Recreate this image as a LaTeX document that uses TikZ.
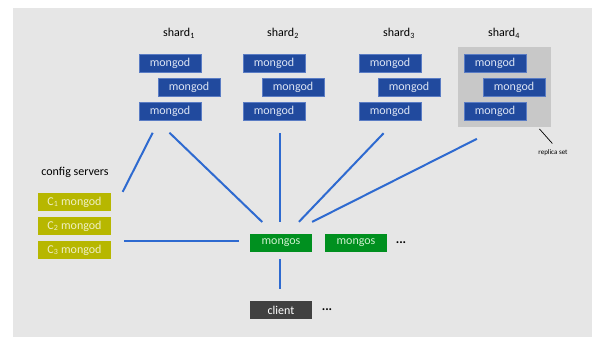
\documentclass[tikz,border=0pt]{standalone}
\usepackage{fontspec}
\setmainfont{Carlito}
\usetikzlibrary{fit,backgrounds}
\definecolor{pagegray}{HTML}{E6E6E6}
\definecolor{rsgray}{HTML}{C8C8C8}
\definecolor{mongodblue}{HTML}{214A9E}
\definecolor{mongodline}{HTML}{5A7CC4}
\definecolor{mongodtext}{HTML}{DDE5F4}
\definecolor{configyellow}{HTML}{B7B700}
\definecolor{configtext}{HTML}{F0F0C4}
\definecolor{mongosgreen}{HTML}{00901F}
\definecolor{mongostext}{HTML}{CFF0CF}
\definecolor{clientgray}{HTML}{404040}
\definecolor{linkblue}{HTML}{2E6AD0}

\begin{document}
\begin{tikzpicture}
  [x=1pt,y=-1pt,
   box/.style={rectangle,minimum width=62pt,minimum height=18pt,inner sep=0pt,font=\fontsize{12}{14}\selectfont},
   mongod/.style={box,fill=mongodblue,draw=mongodline,line width=.5pt,text=mongodtext},
   config/.style={box,minimum width=73pt,fill=configyellow,text=configtext},
   mongos/.style={box,fill=mongosgreen,text=mongostext},
   client/.style={box,fill=clientgray,text=white},
   label/.style={font=\fontsize{12}{14}\selectfont},
   dots/.style={font=\fontsize{13}{14}\selectfont\bfseries},
   link/.style={draw=linkblue,line width=2pt}]
  \useasboundingbox (0,0) rectangle (592,337);
  % shards
  \foreach \i/\x in {1/170,2/274,3/390,4/495} {
    \node[label] (sh\i) at (\x+9,33) {shard\textsubscript{\i}};
    \node[mongod] (s\i a) at (\x,63) {mongod};
    \node[mongod] (s\i b) at (\x+19,87.5) {mongod};
    \node[mongod] (s\i c) at (\x,111) {mongod};
  }
  \begin{scope}[on background layer]
    \fill[pagegray] (13,8) rectangle (592,337);
    \node[fill=rsgray,inner xsep=6pt,inner ysep=6.5pt,fit=(s4a)(s4b)(s4c)] (rs4) {};
  \end{scope}
  \node[font=\fontsize{7}{8}\selectfont] (rsl) at (553,153) {replica set};
  % config servers
  \node[label] (cfg) at (75,172) {config servers};
  \foreach \i/\y in {1/202,2/226,3/250}
    \node[config] (c\i) at (74.5,\y) {C\textsubscript{\i} mongod};
  % routers and client
  \node[mongos] (ms1) at (281,243) {mongos};
  \node[mongos] (ms2) at (356,243) {mongos};
  \node[dots] (msdots) at (401,243) {...};
  \node[client] (cl) at (281,310) {client};
  \node[dots] (cldots) at (327,310) {...};
  % connectors
  \draw[link,shorten <=14pt,shorten >=1pt] ([xshift=-11pt]s1c.south) -- ([xshift=11pt]c1.north east);
  \draw[link,shorten <=18pt,shorten >=17pt] ([xshift=-13.5pt]s1c.south) -- ([xshift=-6.5pt]ms1.north);
  \draw[link,shorten <=13pt,shorten >=12pt] ([xshift=-1pt]ms1.north |- s2c.south) -- ([xshift=-1pt]ms1.north);
  \draw[link,shorten <=18pt,shorten >=16.5pt] ([xshift=6pt]s3c.south) -- ([xshift=6.5pt]ms1.north);
  \draw[link,shorten <=26.5pt,shorten >=26.5pt] ([xshift=-4pt]rs4.south) -- ([xshift=7.5pt]ms1.north);
  \draw[link,shorten <=11pt,shorten >=12.5pt] ([yshift=2pt]ms1.west) -- ([yshift=2pt]ms1.west -| c3.east);
  \draw[link,shorten <=7pt,shorten >=12pt] ([xshift=-1pt]ms1.south) -- ([xshift=-1pt]cl.north);
  \draw[line width=.7pt,shorten >=4pt] ([shift={(-12pt,-2pt)}]rs4.south east) -- ([xshift=2pt]rsl.north);
\end{tikzpicture}
\end{document}
